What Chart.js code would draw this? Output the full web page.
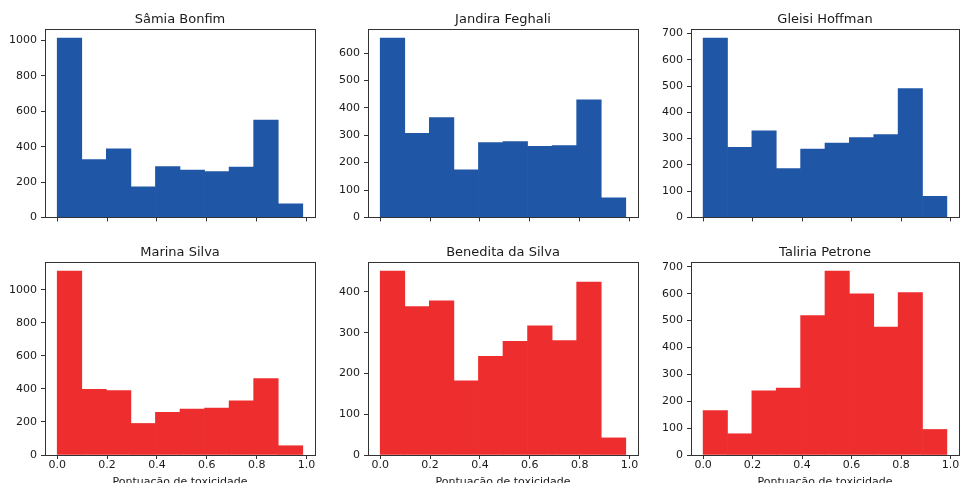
<!DOCTYPE html>
<html>
<head>
<meta charset="utf-8">
<script src="https://cdn.jsdelivr.net/npm/chart.js@4.4.0/dist/chart.umd.min.js"></script>
<style>
html,body{margin:0;padding:0;width:960px;height:483px;overflow:hidden;background:#fff;}
body{position:relative;}
canvas{position:absolute;}
</style>
</head>
<body>
<canvas id="c0"></canvas><canvas id="c1"></canvas><canvas id="c2"></canvas>
<canvas id="c3"></canvas><canvas id="c4"></canvas><canvas id="c5"></canvas>
<script>
// ---- data ----
const names = ["Sâmia Bonfim", "Jandira Feghali", "Gleisi Hoffman", "Marina Silva", "Benedita da Silva", "Taliria Petrone"];
const binEdges = [0.0, 0.0985, 0.197, 0.2955, 0.394, 0.4925, 0.591, 0.6895, 0.788, 0.8865, 0.985];
const samiaBonfim     = [1015, 327, 388, 173, 287, 267, 259, 285, 550, 77];
const jandiraFeghali  = [655, 307, 364, 174, 273, 277, 259, 262, 429, 71];
const gleisiHoffman   = [683, 267, 330, 186, 260, 283, 304, 315, 490, 80];
const marinaSilva     = [1113, 398, 390, 191, 258, 278, 284, 328, 463, 56];
const beneditaDaSilva = [451, 364, 378, 182, 242, 279, 317, 281, 424, 42];
const taliriaPetrone  = [165, 79, 239, 249, 519, 684, 600, 476, 604, 95];
const xTicks = [0.0, 0.2, 0.4, 0.6, 0.8, 1.0];
const yTicksSamia    = [0, 200, 400, 600, 800, 1000];
const yTicksJandira  = [0, 100, 200, 300, 400, 500, 600];
const yTicksGleisi   = [0, 100, 200, 300, 400, 500, 600, 700];
const yTicksMarina   = [0, 200, 400, 600, 800, 1000];
const yTicksBenedita = [0, 100, 200, 300, 400];
const yTicksTaliria  = [0, 100, 200, 300, 400, 500, 600, 700];
const xLabel = "Pontuação de toxicidade";

// ---- layout / style ----
const seriesList = [samiaBonfim, jandiraFeghali, gleisiHoffman, marinaSilva, beneditaDaSilva, taliriaPetrone];
const yTickList = [yTicksSamia, yTicksJandira, yTicksGleisi, yTicksMarina, yTicksBenedita, yTicksTaliria];
const colLeft = [45, 368, 691];
const colWidth = [270, 270, 268];
const rowTop = [29, 262];
const plotH = 193;
const yAxisW = 45;
const topPad = 22;
const blue = '#2056a6';
const red = '#ee2e2e';
const textColor = '#1a1a1a';
const font = 'DejaVu Sans';
const xMin = -0.049, xMax = 1.034;

const framePlugin = {
  id: 'frame',
  afterDraw(chart, args, opts) {
    const {ctx, chartArea: a} = chart;
    ctx.save();
    ctx.strokeStyle = '#333';
    ctx.lineWidth = 1;
    ctx.strokeRect(Math.round(a.left) + 0.5, Math.round(a.top) + 0.5,
                   Math.round(a.right - a.left), Math.round(a.bottom - a.top));
    ctx.fillStyle = textColor;
    ctx.font = '13px "' + font + '"';
    ctx.textAlign = 'center';
    ctx.textBaseline = 'middle';
    ctx.fillText(opts.text, (a.left + a.right) / 2, a.top - 9.5);
    ctx.restore();
  }
};

function fixedTicks(list) {
  return function(scale) {
    scale.ticks = list.map(v => ({value: v}));
  };
}

for (let i = 0; i < 6; i++) {
  const isBottom = i >= 3;
  const col = i % 3;
  const row = isBottom ? 1 : 0;
  const vals = seriesList[i];
  const xAxisH = isBottom ? 34 : 6;
  const cv = document.getElementById('c' + i);
  cv.width = yAxisW + colWidth[col] + 2;
  cv.height = topPad + plotH + xAxisH;
  cv.style.left = (colLeft[col] - yAxisW) + 'px';
  cv.style.top = (rowTop[row] - topPad) + 'px';
  const pts = vals.map((v, k) => ({x: (binEdges[k] + binEdges[k + 1]) / 2, y: v}));
  const tickFont = {family: font, size: 11};
  new Chart(cv, {
    type: 'bar',
    data: {datasets: [{
      data: pts,
      backgroundColor: isBottom ? red : blue,
      borderWidth: 0,
      barPercentage: 1,
      categoryPercentage: 1
    }]},
    options: {
      responsive: false,
      animation: false,
      events: [],
      layout: {padding: {top: topPad, left: 0, right: 2, bottom: 0}},
      plugins: {
        legend: {display: false},
        tooltip: {enabled: false},
        frame: {text: names[i]}
      },
      scales: {
        x: {
          type: 'linear',
          min: xMin, max: xMax,
          offset: false,
          grid: {offset: false, drawOnChartArea: false, drawTicks: true, tickLength: 4, color: '#333'},
          border: {display: false},
          ticks: {display: isBottom, padding: 0, color: textColor, font: tickFont,
                  maxRotation: 0, autoSkip: false,
                  callback: v => Number(v).toFixed(1)},
          title: {display: isBottom, text: xLabel, color: textColor, font: tickFont, padding: 0},
          afterBuildTicks: fixedTicks(xTicks),
          afterFit: s => { s.height = xAxisH; }
        },
        y: {
          min: 0,
          max: Math.max(...vals) * 1.05,
          grid: {drawOnChartArea: false, drawTicks: true, tickLength: 4, color: '#333'},
          border: {display: false},
          ticks: {padding: 4, color: textColor, font: tickFont, autoSkip: false,
                  callback: v => String(Math.round(v))},
          afterBuildTicks: fixedTicks(yTickList[i]),
          afterFit: s => { s.width = yAxisW; }
        }
      }
    },
    plugins: [framePlugin]
  });
}
</script>
</body>
</html>
